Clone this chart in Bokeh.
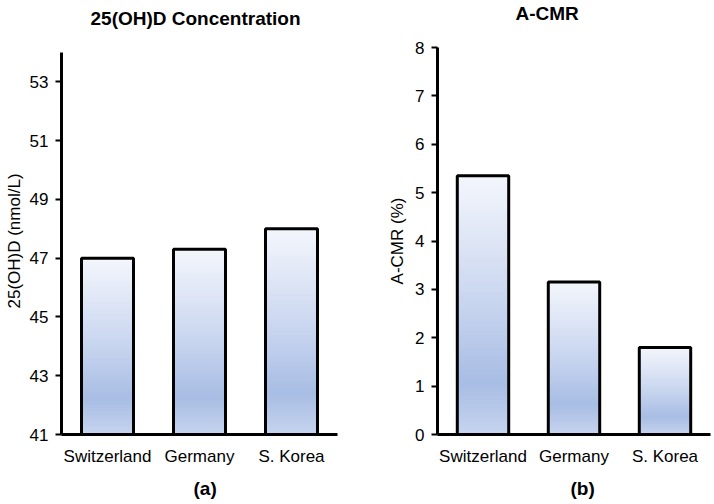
from bokeh.plotting import figure
from bokeh.models import FactorRange, Range1d, FixedTicker, Title, CategoricalAxis
from bokeh.layouts import row
from bokeh.embed import file_html
from bokeh.resources import INLINE

# ---- data ----
categories = ["Switzerland", "Germany", "S. Korea"]
vitd_values = [47.0, 47.3, 48.0]          # 25(OH)D, nmol/L
acmr_values = [5.35, 3.15, 1.8]           # A-CMR, %
vitd_ticks = [41, 43, 45, 47, 49, 51, 53]
acmr_ticks = [0, 1, 2, 3, 4, 5, 6, 7, 8]
titles = ["25(OH)D Concentration", "A-CMR"]
y_labels = ["25(OH)D (nmol/L)", "A-CMR (%)"]
panel_tags = ["(a)", "(b)"]

FONT = "Liberation Sans"
STOPS = [(0.0, (0xF4, 0xF6, 0xFC)), (0.45, (0xCC, 0xD8, 0xF0)),
         (0.8, (0xA8, 0xBD, 0xE4)), (1.0, (0xC6, 0xD4, 0xEE))]


def grad_color(t):
    for (t0, c0), (t1, c1) in zip(STOPS[:-1], STOPS[1:]):
        if t <= t1:
            f = (t - t0) / (t1 - t0) if t1 > t0 else 0
            return "#%02x%02x%02x" % tuple(int(round(a + (b - a) * f)) for a, b in zip(c0, c1))
    return "#%02x%02x%02x" % STOPS[-1][1]


def spacer_axis(size):
    # an invisible axis used only to reserve `size` pixels in a side panel
    ax = CategoricalAxis()
    ax.axis_line_color = None
    ax.major_tick_line_color = None
    ax.minor_tick_line_color = None
    ax.major_tick_out = size
    ax.major_tick_in = 0
    ax.minor_tick_out = 0
    ax.major_label_standoff = 0
    ax.major_label_text_font_size = "1px"
    ax.major_label_text_alpha = 0
    return ax


def make_panel(values, ymin, ymax, yrange_end, ticks, title, ylabel, tag, width,
               mb_left, mb_right, title_dx, title_space, tag_dx, ylab_standoff):
    p = figure(x_range=FactorRange(*categories, range_padding=0, factor_padding=0),
               y_range=Range1d(ymin, yrange_end), width=width, height=503,
               output_backend="svg", toolbar_location=None,
               min_border_left=mb_left, min_border_right=mb_right,
               min_border_top=47, min_border_bottom=503 - 434)
    p.outline_line_color = None
    p.xgrid.visible = False
    p.ygrid.visible = False
    p.background_fill_color = "white"

    bw = 0.565
    N = 60
    for k in range(N):
        t = k / N
        tops = [ymin + (v - ymin) * (1 - t) for v in values]
        p.vbar(x=categories, top=tops, bottom=ymin, width=bw,
               fill_color=grad_color(t + 0.5 / N), line_color=None)
    p.vbar(x=categories, top=values, bottom=ymin, width=bw,
           fill_color=None, line_color="black", line_width=3)

    xa = p.xaxis[0]
    xa.axis_line_width = 3
    xa.major_tick_line_color = None
    xa.minor_tick_line_color = None
    xa.major_tick_out = 0
    xa.major_tick_in = 0
    xa.major_label_standoff = 12
    xa.major_label_text_font = FONT
    xa.major_label_text_font_size = "17px"
    xa.major_label_text_color = "black"

    ya = p.yaxis[0]
    ya.ticker = FixedTicker(ticks=ticks)
    ya.bounds = (ymin, ymax)
    ya.axis_line_width = 3
    ya.major_tick_line_width = 2
    ya.major_tick_out = 6
    ya.major_tick_in = 0
    ya.minor_tick_line_color = None
    ya.major_label_standoff = 7
    ya.major_label_text_font = FONT
    ya.major_label_text_font_size = "17px"
    ya.major_label_text_color = "black"
    ya.axis_label = ylabel
    ya.axis_label_text_font = FONT
    ya.axis_label_text_font_size = "17px"
    ya.axis_label_text_font_style = "normal"
    ya.axis_label_text_color = "black"
    ya.axis_label_standoff = ylab_standoff

    # spacer between frame and title (title sits outermost)
    p.add_layout(spacer_axis(title_space), "above")
    p.title.text = title
    p.title.align = "left"
    p.title.offset = title_dx
    p.title.vertical_align = "top"
    p.title.standoff = 0
    p.title.text_font = FONT
    p.title.text_font_size = "19px"
    p.title.text_font_style = "bold"
    p.title.text_color = "black"

    # spacer between category labels and the panel tag
    p.add_layout(spacer_axis(9), "below")
    p.add_layout(Title(text=tag, align="left", offset=tag_dx, standoff=0,
                       vertical_align="top", text_font=FONT, text_font_size="19px",
                       text_font_style="bold", text_color="black"), "below")
    return p


p1 = make_panel(vitd_values, 41, 54, 54.17, vitd_ticks, titles[0], y_labels[0], panel_tags[0],
                width=356, mb_left=61, mb_right=19,
                title_dx=29, title_space=17, tag_dx=132, ylab_standoff=3)
p2 = make_panel(acmr_values, 0, 8, 8, acmr_ticks, titles[1], y_labels[1], panel_tags[1],
                width=357, mb_left=81, mb_right=3,
                title_dx=78, title_space=22, tag_dx=133, ylab_standoff=5)

layout = row(p1, p2)
open("out.html", "w").write(file_html(layout, INLINE))
